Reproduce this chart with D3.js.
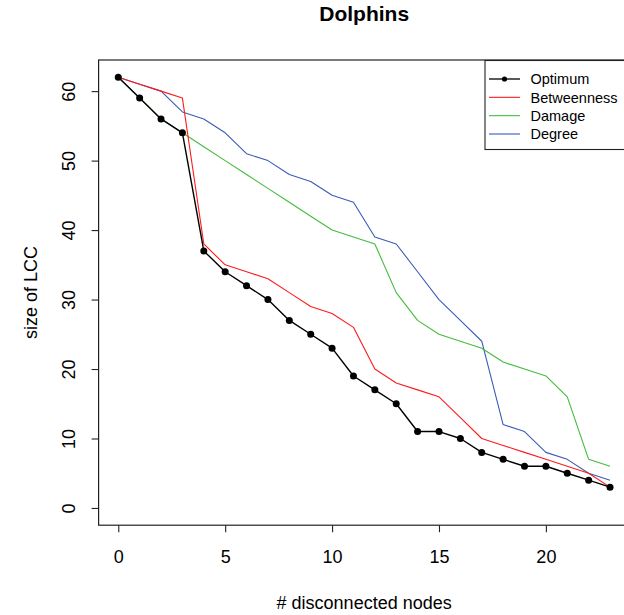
<!DOCTYPE html>
<html>
<head>
<meta charset="utf-8">
<script src="https://cdn.jsdelivr.net/npm/d3@7"></script>
<style>
  html, body { margin: 0; padding: 0; background: #ffffff; }
  svg { display: block; font-family: "Liberation Sans", Arial, Helvetica, sans-serif; }
</style>
</head>
<body>
<svg id="chart" width="624" height="615"></svg>
<script>
// ---- data ----
const nodes = [0,1,2,3,4,5,6,7,8,9,10,11,12,13,14,15,16,17,18,19,20,21,22,23];
const optimum     = [62,59,56,54,37,34,32,30,27,25,23,19,17,15,11,11,10,8,7,6,6,5,4,3];
const betweenness = [62,61,60,59,38,35,34,33,31,29,28,26,20,18,17,16,13,10,9,8,7,6,5,3];
const damage      = [62,59,56,54,52,50,48,46,44,42,40,39,38,31,27,25,24,23,21,20,19,16,7,6];
const degree      = [62,61,60,57,56,54,51,50,48,47,45,44,39,38,34,30,27,24,12,11,8,7,5,4];
const seriesNames = ["Optimum", "Betweenness", "Damage", "Degree"];
const xTicks = [0, 5, 10, 15, 20];
const yTicks = [0, 10, 20, 30, 40, 50, 60];
const chartTitle = "Dolphins";
const xLabel = "# disconnected nodes";
const yLabel = "size of LCC";

// ---- layout ----
const svg = d3.select("#chart");
const plot = { left: 98.6, right: 629.7, top: 60, bottom: 525.2 };

const xMin = 0, xMax = 23, yMin = 0, yMax = 62;
const xPad = 0.04 * (xMax - xMin), yPad = 0.04 * (yMax - yMin);
const x = d3.scaleLinear().domain([xMin - xPad, xMax + xPad]).range([plot.left, plot.right]);
const y = d3.scaleLinear().domain([yMin - yPad, yMax + yPad]).range([plot.bottom, plot.top]);

const colors = {
  Optimum: "#000000",
  Betweenness: "#FF1A1A",
  Damage: "#44BB3C",
  Degree: "#3A5CB8"
};

const series = [
  { name: "Degree", values: degree },
  { name: "Damage", values: damage },
  { name: "Betweenness", values: betweenness },
  { name: "Optimum", values: optimum }
];

const line = d3.line().x((d, i) => x(nodes[i])).y(d => y(d));

// lines
const g = svg.append("g");
series.forEach(s => {
  g.append("path")
    .datum(s.values)
    .attr("fill", "none")
    .attr("stroke", colors[s.name])
    .attr("stroke-width", s.name === "Optimum" ? 1.4 : 1.1)
    .attr("stroke-linejoin", "round")
    .attr("d", line);
});
// optimum points
g.selectAll("circle.opt")
  .data(optimum)
  .enter().append("circle")
  .attr("class", "opt")
  .attr("cx", (d, i) => x(nodes[i]))
  .attr("cy", d => y(d))
  .attr("r", 3.5)
  .attr("fill", "#000");

// box
svg.append("rect")
  .attr("x", plot.left).attr("y", plot.top)
  .attr("width", plot.right - plot.left).attr("height", plot.bottom - plot.top)
  .attr("fill", "none").attr("stroke", "#222").attr("stroke-width", 1.2);

// x axis
const xAxis = d3.axisBottom(x).tickValues(xTicks).tickSize(7).tickPadding(18).tickFormat(d3.format("d"));
const gx = svg.append("g").attr("transform", `translate(0,${plot.bottom})`).call(xAxis);
gx.select(".domain").remove();
gx.selectAll(".tick line").attr("stroke", "#222").attr("stroke-width", 1.1);
gx.selectAll(".tick text").attr("font-size", 18).attr("fill", "#000")
  .attr("font-family", "Liberation Sans, Arial, sans-serif");

// y axis
const yAxis = d3.axisLeft(y).tickValues(yTicks).tickSize(7).tickFormat(d3.format("d"));
const gy = svg.append("g").attr("transform", `translate(${plot.left},0)`).call(yAxis);
gy.select(".domain").remove();
gy.selectAll(".tick line").attr("stroke", "#222").attr("stroke-width", 1.1);
gy.selectAll(".tick text")
  .attr("font-size", 18).attr("fill", "#000")
  .attr("font-family", "Liberation Sans, Arial, sans-serif")
  .attr("x", null).attr("dy", null)
  .attr("text-anchor", "middle")
  .attr("transform", "translate(-30,0) rotate(-90)")
  .attr("dy", "0.35em");

// titles
svg.append("text")
  .attr("x", (plot.left + plot.right) / 2).attr("y", 21)
  .attr("text-anchor", "middle")
  .attr("font-size", 21).attr("font-weight", "bold")
  .text(chartTitle);

svg.append("text")
  .attr("x", (plot.left + plot.right) / 2).attr("y", 609)
  .attr("text-anchor", "middle")
  .attr("font-size", 18)
  .text(xLabel);

svg.append("text")
  .attr("transform", `translate(37,${(plot.top + plot.bottom) / 2}) rotate(-90)`)
  .attr("text-anchor", "middle")
  .attr("font-size", 18)
  .text(yLabel);

// legend
const leg = svg.append("g");
const legX = 485, legY = 60.5, legW = 150, legH = 89;
leg.append("rect")
  .attr("x", legX).attr("y", legY).attr("width", legW).attr("height", legH)
  .attr("fill", "#fff").attr("stroke", "#222").attr("stroke-width", 1.1);
const rowY = d3.scaleLinear().domain([0, 3]).range([79, 134]);
seriesNames.forEach((name, i) => {
  const yy = rowY(i);
  leg.append("line")
    .attr("x1", 489).attr("x2", 520).attr("y1", yy).attr("y2", yy)
    .attr("stroke", colors[name]).attr("stroke-width", name === "Optimum" ? 1.3 : 1.1);
  if (name === "Optimum") {
    leg.append("circle").attr("cx", 504.5).attr("cy", yy).attr("r", 2.6).attr("fill", "#000");
  }
  leg.append("text")
    .attr("x", 530.5).attr("y", yy).attr("dy", "0.36em")
    .attr("font-size", 14.5)
    .text(name);
});
</script>
</body>
</html>
